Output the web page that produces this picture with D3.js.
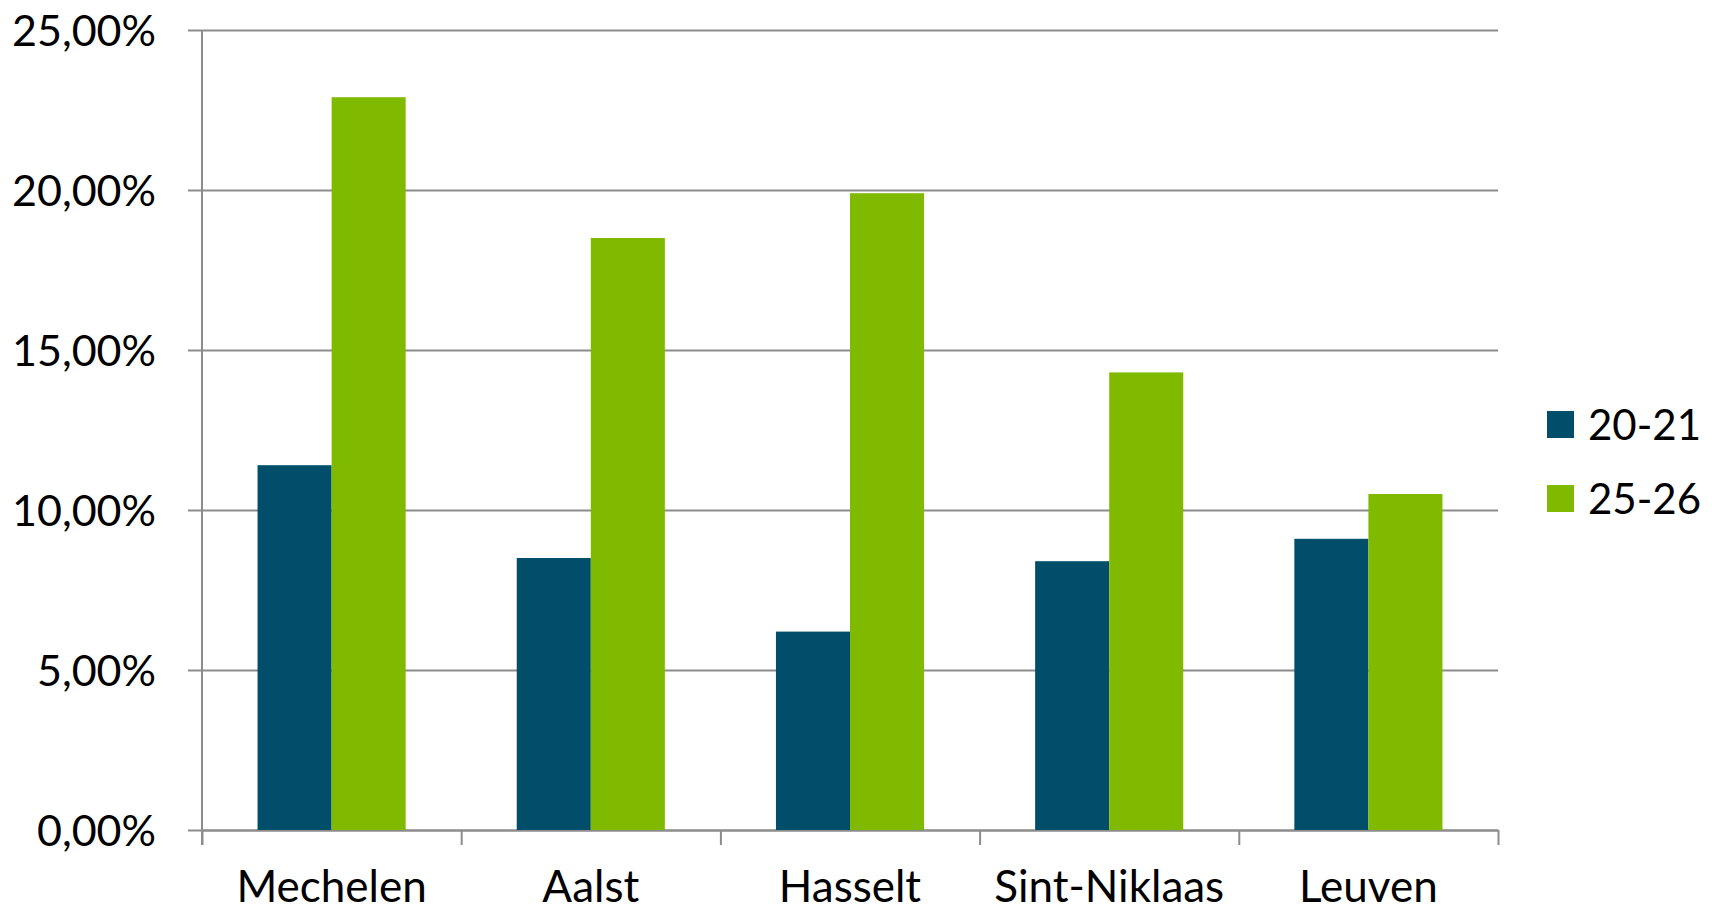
<!DOCTYPE html>
<html>
<head>
<meta charset="utf-8">
<script src="https://cdn.jsdelivr.net/npm/d3@7"></script>
<style>
  body { margin: 0; background: #fff; }
  svg { display: block; }
  text { font-family: Lato, "Open Sans", sans-serif; fill: #000; }
  .grid line { stroke: #8c8c8c; stroke-width: 2px; }
  .axis path, .axis line { stroke: #8c8c8c; stroke-width: 2px; }
</style>
</head>
<body>
<div id="chart"></div>
<script>
'use strict'
var cities = ["Mechelen", "Aalst", "Hasselt", "Sint-Niklaas", "Leuven"];
var seriesNames = ["20-21", "25-26"];
var values2021 = [11.4, 8.5, 6.2, 8.4, 9.1];
var values2526 = [22.9, 18.5, 19.9, 14.3, 10.5];
var yTicks = [0, 5, 10, 15, 20, 25];
var colors = ["#004e6a", "#7fba00"];

var width = 1714, height = 911;
var margins = {top: 30, left: 202, right: 216, bottom: 81};
var plotW = width - margins.left - margins.right;
var plotH = height - margins.top - margins.bottom;

var nl = d3.formatLocale({decimal: ",", thousands: ".", grouping: [3], currency: ["€", ""]});
var pct = nl.format(".2%");

var data = cities.map(function (c, i) {
    return {city: c, vals: [values2021[i], values2526[i]]};
});

var svg = d3.select("#chart").append("svg")
        .attr("width", width)
        .attr("height", height);

var xScale = d3.scaleBand().domain(cities).range([0, plotW]).padding(0);
var xInner = d3.scaleBand().domain(d3.range(seriesNames.length))
        .range([0, xScale.bandwidth()])
        .paddingInner(0)
        .paddingOuter(0.75);
var yScale = d3.scaleLinear().domain([0, 25]).range([plotH, 0]);

// horizontal grid + y labels
var yAxis = d3.axisLeft(yScale)
        .tickValues(yTicks)
        .tickSize(-(plotW + 14))
        .tickPadding(32)
        .tickFormat(function (d) { return pct(d / 100); });

svg.append("g")
        .attr("class", "grid")
        .attr("transform", "translate(" + (margins.left - 14) + "," + margins.top + ")")
        .call(yAxis)
        .call(function (g) { g.select(".domain").remove(); })
        .selectAll("text")
        .style("font-size", "43px")
        .attr("dy", "0.36em");

// vertical axis line
svg.append("line")
        .attr("x1", margins.left).attr("x2", margins.left)
        .attr("y1", margins.top).attr("y2", margins.top + plotH + 15)
        .attr("stroke", "#8c8c8c").attr("stroke-width", 2);

// category tick marks
var xEdges = d3.scaleLinear().domain([0, cities.length]).range([0, plotW]);
svg.append("g")
        .attr("class", "axis")
        .attr("transform", "translate(" + margins.left + "," + (margins.top + plotH) + ")")
        .call(d3.axisBottom(xEdges).ticks(cities.length).tickSize(15).tickSizeOuter(0).tickFormat(""));

// bars
var groups = svg.append("g")
        .attr("transform", "translate(" + margins.left + "," + margins.top + ")")
        .selectAll("g.city")
        .data(data)
        .enter()
        .append("g")
        .attr("class", "city")
        .attr("transform", function (d) { return "translate(" + xScale(d.city) + ",0)"; });

groups.selectAll("rect")
        .data(function (d) { return d.vals; })
        .enter()
        .append("rect")
        .attr("x", function (d, i) { return xInner(i); })
        .attr("width", xInner.bandwidth())
        .attr("y", function (d) { return yScale(d); })
        .attr("height", function (d) { return plotH - yScale(d); })
        .attr("fill", function (d, i) { return colors[i]; });

// category labels
svg.append("g")
        .attr("transform", "translate(" + margins.left + "," + (margins.top + plotH) + ")")
        .selectAll("text")
        .data(cities)
        .enter()
        .append("text")
        .attr("x", function (d) { return xScale(d) + xScale.bandwidth() / 2; })
        .attr("y", 72)
        .attr("text-anchor", "middle")
        .style("font-size", "44px")
        .text(function (d) { return d; });

// legend
var legend = svg.append("g")
        .attr("transform", "translate(1547,411)");
var items = legend.selectAll("g")
        .data(seriesNames)
        .enter()
        .append("g")
        .attr("transform", function (d, i) { return "translate(0," + (i * 74) + ")"; });
items.append("rect")
        .attr("width", 27).attr("height", 27)
        .attr("fill", function (d, i) { return colors[i]; });
items.append("text")
        .attr("x", 41)
        .attr("y", 13.5)
        .attr("dy", "0.36em")
        .style("font-size", "42px")
        .text(function (d) { return d; });
</script>
</body>
</html>
